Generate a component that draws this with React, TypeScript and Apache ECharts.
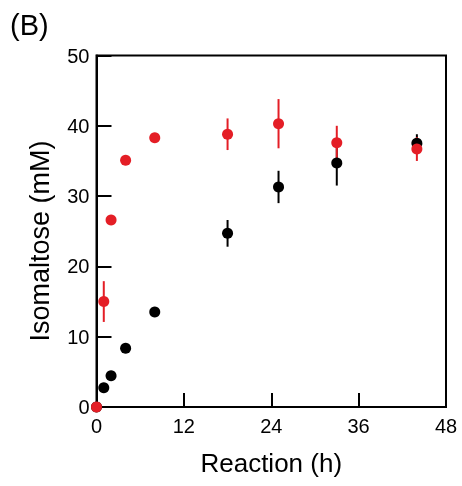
import React, { useEffect, useRef } from "react";
import * as echarts from "echarts";

const times = [0, 1, 2, 4, 8, 18, 25, 33, 44];
const blackValues = [0, 2.75, 4.45, 8.35, 13.5, 24.7, 31.3, 34.7, 37.5];
const blackErrors = [0, 0, 0, 0, 0, 1.9, 2.3, 3.2, 1.3];
const redValues = [0, 15.0, 26.6, 35.1, 38.3, 38.8, 40.3, 37.6, 36.7];
const redErrors = [0, 2.9, 0, 0, 0, 2.25, 3.5, 2.4, 1.7];
const xTicks = [0, 12, 24, 36, 48];
const yTicks = [0, 10, 20, 30, 40, 50];

const FONT = "'Liberation Sans', Arial, Helvetica, sans-serif";
const RED = "#e41e26";
const BLACK = "#000000";

function errorSeries(values: number[], errors: number[], color: string) {
  const data = times
    .map((t, i) => [t, values[i] - errors[i], values[i] + errors[i]])
    .filter((_, i) => errors[i] > 0);
  return {
    type: "custom",
    clip: false,
    data,
    renderItem: (params: any, api: any) => {
      const p1 = api.coord([api.value(0), api.value(1)]);
      const p2 = api.coord([api.value(0), api.value(2)]);
      return {
        type: "line",
        shape: { x1: p1[0], y1: p1[1], x2: p2[0], y2: p2[1] },
        style: { stroke: color, lineWidth: 2 },
      };
    },
  };
}

export default function App() {
  const ref = useRef<HTMLDivElement>(null);
  useEffect(() => {
    if (!ref.current) return;
    const chart = echarts.init(ref.current, null, { renderer: "svg" });
    chart.setOption({
      animation: false,
      grid: {
        left: 96.5,
        top: 55.5,
        right: 16,
        bottom: 79,
        show: true,
        borderColor: BLACK,
        borderWidth: 2,
      },
      graphic: [
        {
          type: "text",
          x: 10,
          y: 25,
          style: {
            text: "(B)",
            fontSize: 29,
            fontFamily: FONT,
            fill: BLACK,
            textVerticalAlign: "middle",
          },
        },
        {
          type: "text",
          x: 40,
          y: 241,
          rotation: Math.PI / 2,
          style: {
            text: "Isomaltose (mM)",
            fontSize: 27,
            fontFamily: FONT,
            fill: BLACK,
            textAlign: "center",
            textVerticalAlign: "middle",
          },
        },
      ],
      xAxis: {
        type: "value",
        min: xTicks[0],
        max: xTicks[xTicks.length - 1],
        interval: 12,
        name: "Reaction (h)",
        nameLocation: "middle",
        nameGap: 43,
        nameTextStyle: { fontSize: 26, fontFamily: FONT, color: BLACK },
        axisLine: { show: true, lineStyle: { color: BLACK, width: 2 } },
        axisTick: { show: true, inside: true, length: 14, lineStyle: { color: BLACK, width: 2 } },
        axisLabel: { fontSize: 20, fontFamily: FONT, color: BLACK, margin: 9 },
        splitLine: { show: false },
      },
      yAxis: {
        type: "value",
        min: yTicks[0],
        max: yTicks[yTicks.length - 1],
        interval: 10,
        axisLine: { show: true, lineStyle: { color: BLACK, width: 2 } },
        axisTick: { show: true, inside: true, length: 15, lineStyle: { color: BLACK, width: 2 } },
        axisLabel: { fontSize: 20, fontFamily: FONT, color: BLACK, margin: 7 },
        splitLine: { show: false },
      },
      series: [
        errorSeries(blackValues, blackErrors, BLACK),
        {
          type: "scatter",
          clip: false,
          symbol: "circle",
          symbolSize: 11,
          itemStyle: { color: BLACK, opacity: 1 },
          data: times.map((t, i) => [t, blackValues[i]]),
        },
        errorSeries(redValues, redErrors, RED),
        {
          type: "scatter",
          clip: false,
          symbol: "circle",
          symbolSize: 11,
          itemStyle: { color: RED, opacity: 1 },
          data: times.map((t, i) => [t, redValues[i]]),
        },
      ],
    });
    return () => chart.dispose();
  }, []);
  return (
    <div
      ref={ref}
      style={{ position: "fixed", left: 0, top: 0, width: 462, height: 486 }}
    />
  );
}
